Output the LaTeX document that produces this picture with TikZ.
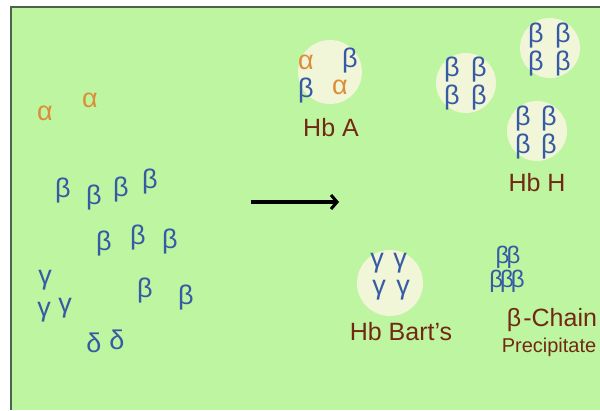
\documentclass[tikz,border=0pt]{standalone}
\usepackage{fontspec}
\setmainfont{Liberation Sans}
\usetikzlibrary{arrows.meta}

\definecolor{bggreen}{RGB}{190,245,160}
\definecolor{edgegreen}{RGB}{75,100,75}
\definecolor{blobfill}{RGB}{240,246,215}
\definecolor{alphaorange}{RGB}{222,140,55}
\definecolor{betablue}{RGB}{55,90,165}
\definecolor{hbbrown}{RGB}{115,40,20}

\begin{document}
\begin{tikzpicture}[x=1pt,y=1pt,yscale=-1,
  chainA/.style={text=alphaorange,inner sep=0pt,font=\fontsize{27}{27}\selectfont},
  chainB/.style={text=betablue,inner sep=0pt,font=\fontsize{27}{27}\selectfont},
  hblabel/.style={text=hbbrown,inner sep=0pt,font=\fontsize{25}{25}\selectfont},
  smalllabel/.style={text=hbbrown,inner sep=0pt,font=\fontsize{20}{20}\selectfont},
  blob/.style={fill=blobfill,draw=none}]
\useasboundingbox (0,0) rectangle (600,410);

%Background panel
\fill[white] (0,0) rectangle (600,410);
\fill[bggreen] (10,6) rectangle (600,410);
\draw[edgegreen,line width=2.5pt] (11,410) -- (11,7) -- (600,7);

%Free chains (left)
\node[chainA] (a1) at (45,113) {α};
\node[chainA] (a2) at (90,100) {α};
\node[chainB] (b1) at (63,191) {β};
\node[chainB] (b2) at (94,198) {β};
\node[chainB] (b3) at (121,190) {β};
\node[chainB] (b4) at (150,182) {β};
\node[chainB] (b5) at (104,244) {β};
\node[chainB] (b6) at (138,238) {β};
\node[chainB] (b7) at (170,242) {β};
\node[chainB] (b8) at (145,291) {β};
\node[chainB] (b9) at (186,298) {β};
\node[chainB] (g1) at (45,280) {γ};
\node[chainB] (g2) at (44,312) {γ};
\node[chainB] (g3) at (65,308) {γ};
\node[chainB] (d1) at (94,343) {δ};
\node[chainB] (d2) at (117,340) {δ};

%Arrow
\coordinate (arrS) at (251,202);
\coordinate (arrE) at (339,202);
\draw[line width=3.6pt,-{Straight Barb[length=6pt,width=14pt,line width=3pt]}] (arrS) -- (arrE);

%Hb A
\fill[blob] (330,72) circle (32);
\node[chainA] (hbaA1) at (306,62) {α};
\node[chainB] (hbaB1) at (350,61) {β};
\node[chainB] (hbaB2) at (306,91) {β};
\node[chainA] (hbaA2) at (340,87) {α};
\node[hblabel] (hbaL) at (331,128) {Hb A};

%Hb H tetramers
\fill[blob] (466,83) circle (30);
\node[chainB] (h1a) at (452,70) {β};
\node[chainB] (h1b) at (479,70) {β};
\node[chainB] (h1c) at (452,98) {β};
\node[chainB] (h1d) at (479,98) {β};
\fill[blob] (550,48) circle (30);
\node[chainB] (h2a) at (536,36) {β};
\node[chainB] (h2b) at (563,36) {β};
\node[chainB] (h2c) at (536,64) {β};
\node[chainB] (h2d) at (563,64) {β};
\fill[blob] (537,131) circle (30);
\node[chainB] (h3a) at (523,119) {β};
\node[chainB] (h3b) at (549,119) {β};
\node[chainB] (h3c) at (523,147) {β};
\node[chainB] (h3d) at (549,147) {β};
\node[hblabel] (hbhL) at (537,183) {Hb H};

%Hb Bart's
\fill[blob] (390,283) circle (33);
\node[chainB] (bg1) at (377,263) {γ};
\node[chainB] (bg2) at (400,263) {γ};
\node[chainB] (bg3) at (379,290) {γ};
\node[chainB] (bg4) at (403,290) {γ};
\node[hblabel] (hbbL) at (401,332) {Hb Bart's};

%beta-chain precipitate
\node[chainB,font=\fontsize{24}{24}\selectfont] (pr1) at (508,257) {β\kern-3ptβ};
\node[chainB,font=\fontsize{24}{24}\selectfont] (pr2) at (507,281) {β\kern-3ptβ\kern-3ptβ};
\node[hblabel] (prL) at (552,320) {β\kern2pt-Chain};
\node[smalllabel] (prS) at (549,347) {Precipitate};
\end{tikzpicture}
\end{document}
